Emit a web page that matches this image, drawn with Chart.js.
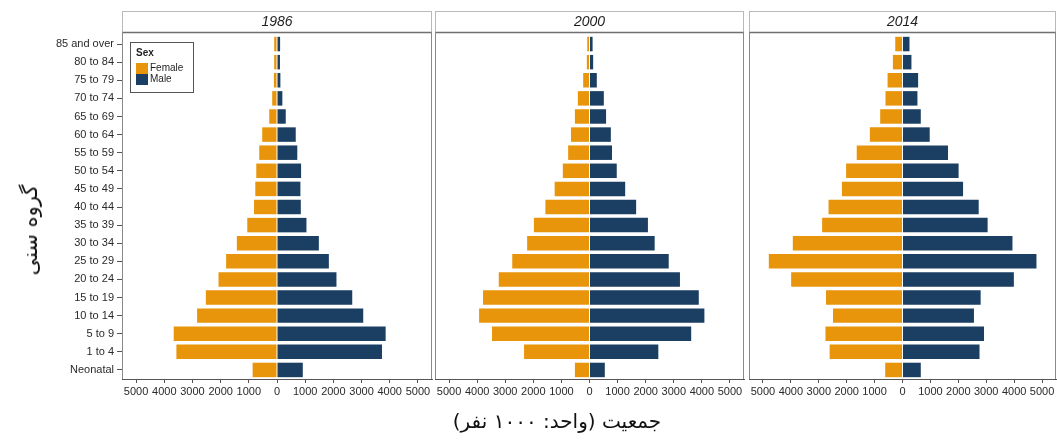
<!DOCTYPE html>
<html>
<head>
<meta charset="utf-8">
<script src="https://cdn.jsdelivr.net/npm/chart.js@4.4.1/dist/chart.umd.min.js"></script>
<style>
  html, body { margin: 0; padding: 0; background: #fff; width: 1057px; height: 441px; overflow: hidden; }
  .panel { position: absolute; top: 0; height: 441px; }
  #yTitle {
    position: absolute; left: 30px; top: 230px;
    transform: translate(-50%, -50%) rotate(-90deg);
    font: 21px "DejaVu Sans", sans-serif; color: #111; white-space: nowrap; direction: rtl;
  }
  #xTitle {
    position: absolute; left: 557px; top: 421px;
    transform: translate(-50%, -50%);
    font: 20px "DejaVu Sans", sans-serif; color: #111; white-space: nowrap; direction: rtl;
  }
</style>
</head>
<body>
<div class="panel" style="left:0;width:433px"><canvas id="p1986" width="433" height="441"></canvas></div>
<div class="panel" style="left:434px;width:312px"><canvas id="p2000" width="312" height="441"></canvas></div>
<div class="panel" style="left:748px;width:309px"><canvas id="p2014" width="309" height="441"></canvas></div>
<div id="yTitle">گروه سنی</div>
<div id="xTitle">جمعیت (واحد: ۱۰۰۰ نفر)</div>

<script>
// Age groups, oldest at the top
const ageGroups = ['85 and over', '80 to 84', '75 to 79', '70 to 74', '65 to 69', '60 to 64',
  '55 to 59', '50 to 54', '45 to 49', '40 to 44', '35 to 39', '30 to 34', '25 to 29',
  '20 to 24', '15 to 19', '10 to 14', '5 to 9', '1 to 4', 'Neonatal'];

// Population in thousands
const female1986 = [100, 100, 110, 170, 275, 525, 630, 735, 770, 815, 1055, 1425, 1805, 2075, 2525, 2835, 3665, 3570, 865];
const male1986   = [110, 105, 120, 190, 310, 665, 720, 855, 830, 845, 1045, 1485, 1840, 2110, 2670, 3060, 3855, 3725, 915];

const female2000 = [80, 95, 225, 415, 520, 660, 760, 950, 1240, 1570, 1980, 2220, 2750, 3230, 3790, 3930, 3470, 2330, 520];
const male2000   = [110, 130, 260, 510, 590, 760, 800, 970, 1270, 1660, 2080, 2320, 2820, 3220, 3890, 4090, 3620, 2450, 545];

const female2014 = [260, 345, 535, 610, 800, 1170, 1640, 2020, 2170, 2650, 2880, 3930, 4790, 3990, 2740, 2490, 2760, 2610, 620];
const male2014   = [250, 320, 560, 535, 655, 975, 1630, 2010, 2170, 2730, 3050, 3940, 4800, 3990, 2800, 2560, 2920, 2760, 655];

// Tick values shown on every population axis
const populationTicks = [-5000, -4000, -3000, -2000, -1000, 0, 1000, 2000, 3000, 4000, 5000];

const legendTitle = 'Sex';
const FEMALE_COLOR = '#E8950B';
const MALE_COLOR = '#1B3E63';
const TICK_FONT = { family: '"Liberation Sans", Arial, sans-serif', size: 11 };

// Strip with the year above the plot, plus the grey frame around the plot region
const panelFrame = {
  id: 'panelFrame',
  afterDraw(chart, args, opts) {
    const { ctx, chartArea: a } = chart;
    const frameTop = a.top - 3;
    const stripTop = 11;
    const l = a.left + 0.5, r = a.right - 0.5;
    ctx.save();
    ctx.lineWidth = 1;
    ctx.strokeStyle = '#b9b9b9';
    ctx.strokeRect(l, stripTop + 0.5, r - l, frameTop - stripTop);
    ctx.strokeStyle = '#8a8a8a';
    ctx.beginPath();
    ctx.moveTo(l, a.bottom); ctx.lineTo(l, frameTop + 0.5);
    ctx.moveTo(r, a.bottom); ctx.lineTo(r, frameTop + 0.5);
    ctx.stroke();
    ctx.strokeStyle = '#6f6f6f';
    ctx.lineWidth = 1.5;
    ctx.beginPath();
    ctx.moveTo(l, frameTop + 0.5); ctx.lineTo(r, frameTop + 0.5);
    ctx.stroke();
    ctx.fillStyle = '#1e1e1e';
    ctx.font = 'italic 14px "Liberation Sans", Arial, sans-serif';
    ctx.textAlign = 'center';
    ctx.textBaseline = 'middle';
    ctx.fillText(opts.text, (a.left + a.right) / 2, (stripTop + frameTop) / 2 + 1);
    ctx.restore();
  }
};

// Boxed legend drawn inside the top-left of the plot
const insetLegend = {
  id: 'insetLegend',
  afterDraw(chart, args, opts) {
    if (!opts.show) return;
    const { ctx, chartArea: a } = chart;
    const x = a.left + 8, y = a.top + 7, w = 63, h = 50;
    ctx.save();
    ctx.fillStyle = '#fff';
    ctx.fillRect(x, y, w, h);
    ctx.strokeStyle = '#555';
    ctx.lineWidth = 1;
    ctx.strokeRect(x + 0.5, y + 0.5, w, h);
    ctx.fillStyle = '#1e1e1e';
    ctx.textBaseline = 'middle';
    ctx.textAlign = 'left';
    ctx.font = 'bold 10px "Liberation Sans", Arial, sans-serif';
    ctx.fillText(opts.title, x + 6, y + 11);
    ctx.font = '10px "Liberation Sans", Arial, sans-serif';
    chart.data.datasets.forEach((ds, i) => {
      const sy = y + 21 + i * 11;
      ctx.fillStyle = ds.backgroundColor;
      ctx.fillRect(x + 6, sy, 12, 11);
      ctx.fillStyle = '#1e1e1e';
      ctx.fillText(ds.label, x + 20, sy + 5.5);
    });
    ctx.restore();
  }
};

function makePanel(canvasId, year, female, male, opts) {
  return new Chart(document.getElementById(canvasId), {
    type: 'bar',
    data: {
      labels: ageGroups,
      datasets: [
        { label: 'Female', data: female.map(v => -v), backgroundColor: FEMALE_COLOR },
        { label: 'Male', data: male, backgroundColor: MALE_COLOR }
      ]
    },
    options: {
      indexAxis: 'y',
      responsive: false,
      animation: false,
      events: [],
      layout: { padding: { top: 35, bottom: 0, left: opts.padLeft, right: opts.padRight } },
      datasets: { bar: { barPercentage: 0.8, categoryPercentage: 1.0 } },
      scales: {
        x: {
          type: 'linear', stacked: true, min: -5500, max: 5500,
          afterBuildTicks: axis => { axis.ticks = populationTicks.map(v => ({ value: v })); },
          afterFit: axis => { axis.height = 62; },
          ticks: {
            autoSkip: false, maxRotation: 0, padding: 2, color: '#2a2a2a', font: TICK_FONT,
            callback: v => String(Math.abs(v))
          },
          grid: { drawOnChartArea: false, drawTicks: true, tickLength: 4, color: '#555' },
          border: { display: true, color: '#555', width: 1 }
        },
        y: {
          type: 'category', stacked: true, display: opts.showY,
          afterFit: axis => { if (opts.showY) axis.width = 122; },
          ticks: { autoSkip: false, padding: 3, color: '#2a2a2a', font: TICK_FONT },
          grid: { offset: false, drawOnChartArea: false, drawTicks: true, tickLength: 5, color: '#555' },
          border: { display: true, color: '#555', width: 1 }
        }
      },
      plugins: {
        legend: { display: false },
        tooltip: { enabled: false },
        panelFrame: { text: year },
        insetLegend: { show: opts.legend, title: legendTitle }
      }
    },
    plugins: [panelFrame, insetLegend]
  });
}

makePanel('p1986', '1986', female1986, male1986, { showY: true, legend: true, padLeft: 0, padRight: 1 });
makePanel('p2000', '2000', female2000, male2000, { showY: false, legend: false, padLeft: 1, padRight: 2 });
makePanel('p2014', '2014', female2014, male2014, { showY: false, legend: false, padLeft: 1, padRight: 1 });
</script>
</body>
</html>
